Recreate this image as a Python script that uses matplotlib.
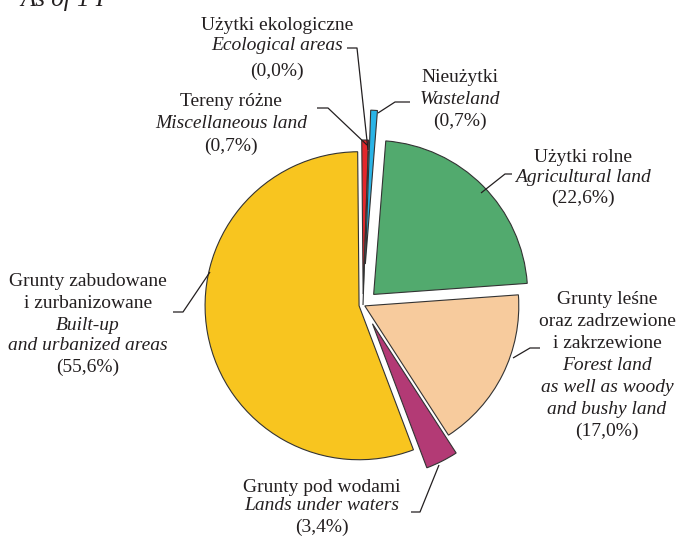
import matplotlib
matplotlib.use("Agg")
import matplotlib.pyplot as plt

# ---- data ----
categories_pl = ["Nieużytki", "Użytki rolne", "Grunty leśne oraz zadrzewione i zakrzewione",
                 "Grunty pod wodami", "Grunty zabudowane i zurbanizowane",
                 "Tereny różne", "Użytki ekologiczne"]
categories_en = ["Wasteland", "Agricultural land", "Forest land as well as woody and bushy land",
                 "Lands under waters", "Built-up and urbanized areas",
                 "Miscellaneous land", "Ecological areas"]
shares = [0.7, 22.6, 17.0, 3.4, 55.6, 0.7, 0.0]
pct_labels = ["(0,7%)", "(22,6%)", "(17,0%)", "(3,4%)", "(55,6%)", "(0,7%)", "(0,0%)"]
colors = ["#2AB4E6", "#52AA6E", "#F7CB9D", "#B33A75", "#F8C51F", "#E3262B", "#333333"]
explode = [41, 15, 2, 21, 4, 11, 0]

W, H = 677, 536
fig = plt.figure(figsize=(W / 100, H / 100), dpi=100)
ax = fig.add_axes([0, 0, 1, 1])

def Y(ypx):
    return H - ypx

cx, cy, R = 363, 305, 154
wedges, _ = ax.pie(shares, colors=colors, explode=explode, radius=R, center=(cx, Y(cy)),
                   startangle=88, counterclock=False,
                   wedgeprops=dict(edgecolor="#333333", linewidth=0.8))
ax.set_xlim(0, W)
ax.set_ylim(0, H)
ax.set_aspect("equal")
ax.axis("off")

serif = "Liberation Serif"
fs = 14

def block(x, lines, ha="center"):
    for (y, txt, italic) in lines:
        ax.text(x, Y(y), txt, fontsize=fs, family=serif, style="italic" if italic else "normal",
                ha=ha, va="center", color="#231F20")

def leader(pts):
    xs = [p[0] for p in pts]
    ys = [Y(p[1]) for p in pts]
    ax.plot(xs, ys, color="#231F20", lw=0.9, solid_capstyle="butt")

# title (cut at top)
ax.text(20, Y(6), "As of 1 I", fontsize=18, family=serif, style="italic",
        ha="left", va="baseline", color="#231F20")

# Ecological areas
block(277, [(25, "Użytki ekologiczne", False), (46, "Ecological areas", True), (71, pct_labels[6], False)])
leader([(347, 48), (357, 48), (368, 150)])

# Miscellaneous
block(231, [(101, "Tereny różne", False), (124, "Miscellaneous land", True), (146, pct_labels[5], False)])
leader([(317, 108), (328, 108), (367, 145)])

# Wasteland
block(460, [(78, "Nieużytki", False), (99, "Wasteland", True), (121, pct_labels[0], False)])
leader([(378, 113), (395, 102), (410, 102)])

# Agricultural
block(583, [(157, "Użytki rolne", False), (177, "Agricultural land", True), (198, pct_labels[1], False)])
leader([(481, 193), (505, 174), (512, 174)])

# Forest
block(607, [(300, "Grunty leśne", False), (322, "oraz zadrzewione", False), (343, "i zakrzewione", False),
            (366, "Forest land", True), (387, "as well as woody", True), (409, "and bushy land", True),
            (431, pct_labels[2], False)])
leader([(513, 358), (530, 348), (540, 348)])

# Waters
block(322, [(487, "Grunty pod wodami", False), (506, "Lands under waters", True), (527, pct_labels[3], False)])
leader([(439, 465), (420, 512), (411, 512)])

# Built-up
block(88, [(282, "Grunty zabudowane", False), (303, "i zurbanizowane", False), (325, "Built-up", True),
           (345, "and urbanized areas", True), (367, pct_labels[4], False)])
leader([(173, 312), (183, 312), (210, 272)])

fig.savefig("out.png", dpi=100)
